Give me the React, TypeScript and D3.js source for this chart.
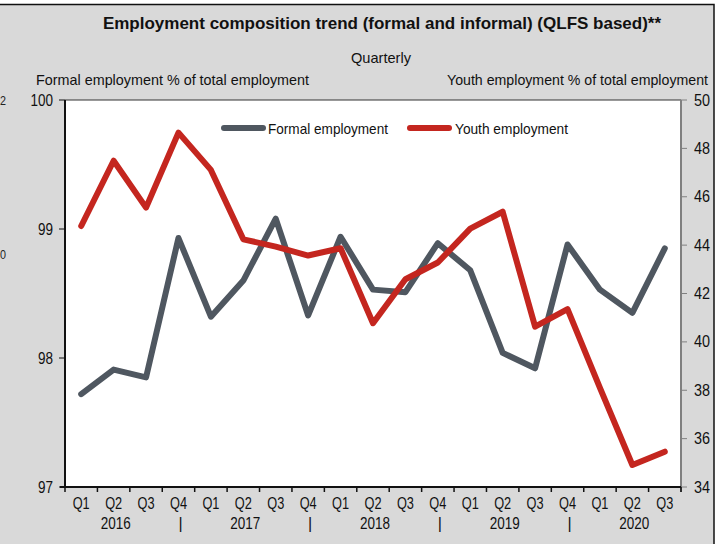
import React from "react";
import * as d3 from "d3";

const quarters = ["Q1","Q2","Q3","Q4","Q1","Q2","Q3","Q4","Q1","Q2","Q3","Q4","Q1","Q2","Q3","Q4","Q1","Q2","Q3"];
const years = ["","2016","","|","","2017","","|","","2018","","|","","2019","","|","","2020",""];
const formal = [97.72,97.91,97.85,98.93,98.32,98.6,99.08,98.33,98.94,98.53,98.51,98.89,98.68,98.04,97.92,98.88,98.53,98.35,98.85];
const youth = [44.79,47.49,45.55,48.65,47.11,44.24,43.94,43.57,43.87,40.77,42.59,43.28,44.68,45.38,40.63,41.35,38.1,34.91,35.46];
const leftTicks = [97,98,99,100];
const rightTicks = [34,36,38,40,42,44,46,48,50];

const FONT = "'Liberation Sans Narrow','Arial Narrow','Liberation Sans',Arial,sans-serif";
const GRAY = "#4f5760";
const RED = "#c4261f";

export default function App() {
  const W = 719, H = 544;
  const x0 = 65, x1 = 681, y0 = 100, y1 = 487;
  const idx = quarters.map((_, i) => i);
  const x = d3.scaleBand<number>().domain(idx).range([x0, x1]);
  const cx = (i: number) => (x(i) as number) + x.bandwidth() / 2;
  const yL = d3.scaleLinear().domain([97, 100]).range([y1, y0]);
  const yR = d3.scaleLinear().domain([34, 50]).range([y1, y0]);
  const lineF = d3.line<number>().x((_, i) => cx(i)).y((d) => yL(d));
  const lineY = d3.line<number>().x((_, i) => cx(i)).y((d) => yR(d));
  const tickXs = d3.range(quarters.length + 1).map((i) => x0 + i * x.step());

  return (
    <svg width={W} height={H} style={{ position: "absolute", left: 0, top: 0 }} fontFamily={FONT}>
      <rect x={0} y={0} width={W} height={H} fill="#ffffff" />
      <rect x={-10} y={4.5} width={724} height={H + 10} fill="#d9d9d9" stroke="#111" strokeWidth={1.5} />
      <text x={0} y={105} fontSize={13} fill="#222" textLength={6} lengthAdjust="spacingAndGlyphs">2</text>
      <text x={0} y={259} fontSize={13} fill="#222" textLength={6} lengthAdjust="spacingAndGlyphs">0</text>

      <text x={382} y={29} fontSize={17} fontWeight="bold" textAnchor="middle" fill="#111">
        Employment composition trend (formal and informal) (QLFS based)**
      </text>
      <text x={381} y={63} fontSize={15} textAnchor="middle" fill="#111" textLength={60} lengthAdjust="spacingAndGlyphs">Quarterly</text>
      <text x={36} y={85} fontSize={15} fill="#111" textLength={273} lengthAdjust="spacingAndGlyphs">Formal employment % of total employment</text>
      <text x={447} y={85} fontSize={14} fill="#111" textLength={261} lengthAdjust="spacingAndGlyphs">Youth employment % of total employment</text>

      <rect x={x0} y={y0} width={x1 - x0} height={y1 - y0} fill="#ffffff" />
      <line x1={x0} x2={x1} y1={y0} y2={y0} stroke="#333" strokeWidth={1} />

      {/* right axis */}
      <line x1={x1} x2={x1} y1={y0} y2={y1 + 5} stroke="#808080" strokeWidth={2} />
      {rightTicks.map((t) => (
        <g key={"r" + t}>
          <line x1={x1} x2={x1 + 6} y1={yR(t)} y2={yR(t)} stroke="#808080" strokeWidth={1} />
          <text x={694} y={yR(t) + 5.5} fontSize={16} fill="#111" textLength={16} lengthAdjust="spacingAndGlyphs">{t}</text>
        </g>
      ))}

      {/* left axis */}
      {leftTicks.map((t) => (
        <g key={"l" + t}>
          <line x1={x0 - 6} x2={x0} y1={yL(t)} y2={yL(t)} stroke="#111" strokeWidth={1} />
          <text x={53} y={yL(t) + 5.5} fontSize={16} textAnchor="end" fill="#111" textLength={String(t).length * 7.5} lengthAdjust="spacingAndGlyphs">{t}</text>
        </g>
      ))}

      {/* x axis ticks */}
      {tickXs.map((tx, i) => (
        <line key={"t" + i} x1={tx} x2={tx} y1={y1} y2={y1 + 5} stroke="#111" strokeWidth={1.5} />
      ))}
      {quarters.map((q, i) => (
        <text key={"q" + i} x={cx(i)} y={509} fontSize={16} textAnchor="middle" fill="#111" textLength={17} lengthAdjust="spacingAndGlyphs">{q}</text>
      ))}
      {years.map((yv, i) =>
        yv ? (
          <text key={"y" + i} x={cx(i) + 2} y={529} fontSize={16} textAnchor="middle" fill="#111" textLength={yv.length > 1 ? 30 : undefined} lengthAdjust="spacingAndGlyphs">{yv}</text>
        ) : null
      )}

      <path d={lineF(formal) || ""} fill="none" stroke={GRAY} strokeWidth={6} strokeLinejoin="round" strokeLinecap="round" />
      <path d={lineY(youth) || ""} fill="none" stroke={RED} strokeWidth={6} strokeLinejoin="round" strokeLinecap="round" />

      <line x1={x0} x2={x0} y1={y0} y2={y1 + 1} stroke="#111" strokeWidth={2} />
      <line x1={x0 - 5} x2={x1} y1={y1} y2={y1} stroke="#111" strokeWidth={2} />

      {/* legend */}
      <line x1={224} x2={263} y1={128} y2={128} stroke={GRAY} strokeWidth={6} strokeLinecap="round" />
      <text x={268} y={133.5} fontSize={15} fill="#111" textLength={120} lengthAdjust="spacingAndGlyphs">Formal employment</text>
      <line x1={410} x2={449} y1={128} y2={128} stroke={RED} strokeWidth={6} strokeLinecap="round" />
      <text x={455} y={133.5} fontSize={15} fill="#111" textLength={113} lengthAdjust="spacingAndGlyphs">Youth employment</text>
    </svg>
  );
}
